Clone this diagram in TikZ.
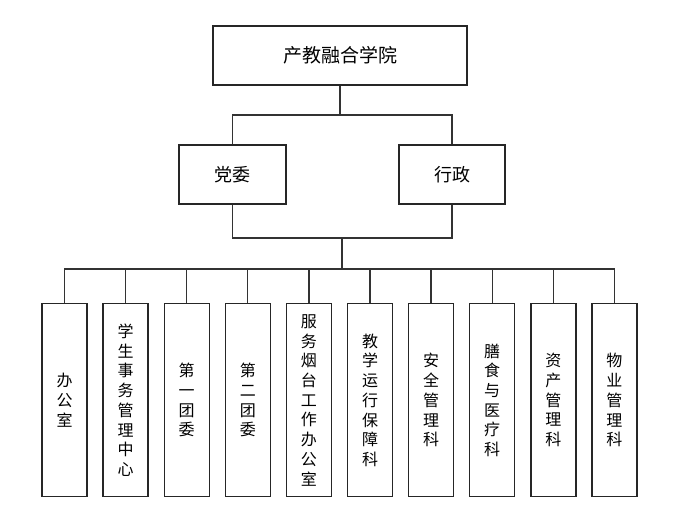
\documentclass[tikz,border=0pt]{standalone}
\usepackage{fontspec}
\setmainfont{Noto Sans CJK SC}
\begin{document}
\begin{tikzpicture}[x=1pt,y=-1pt,
  box/.style={draw=black!85,line width=1.4pt,fill=white,inner sep=0pt},
  vbox/.style={box,minimum width=45pt,minimum height=193pt,align=center,
     font=\fontsize{16}{19.7}\selectfont,anchor=north},
  conn/.style={draw=black!80,line width=1.3pt}]
\useasboundingbox (0,0) rectangle (677,528);
\node[box,minimum width=254pt,minimum height=59pt,font=\fontsize{19}{22}\selectfont] (top) at (340,55.5) {产教融合学院};
\node[box,minimum width=107pt,minimum height=59pt,font=\fontsize{18}{21}\selectfont] (dw) at (232.5,174.5) {党委};
\node[box,minimum width=106pt,minimum height=59pt,font=\fontsize{18}{21}\selectfont] (xz) at (452,174.5) {行政};
\coordinate (bus1) at (340,115);
\coordinate (bus2) at (342,238);
\coordinate (bus3) at (342,269);
\draw[conn] (top.south) -- (bus1);
\draw[conn] (dw.north) |- (bus1) -| (xz.north);
\draw[conn] (dw.south) |- (bus2) -| (xz.south);
\draw[conn] (bus2) -- (bus3);
\foreach \i/\t in {0/{办\\公\\室},
  1/{学\\生\\事\\务\\管\\理\\中\\心},
  2/{第\\一\\团\\委},
  3/{第\\二\\团\\委},
  4/{服\\务\\烟\\台\\工\\作\\办\\公\\室},
  5/{教\\学\\运\\行\\保\\障\\科},
  6/{安\\全\\管\\理\\科},
  7/{膳\\食\\与\\医\\疗\\科},
  8/{资\\产\\管\\理\\科},
  9/{物\\业\\管\\理\\科}}{
  \node[vbox] (b\i) at ({64.5+61.1*\i},303) {\t};
}
\draw[conn] (b0.north) |- (bus3) -| (b9.north);
\foreach \i in {1,...,8}{
  \draw[conn] (b\i.north) -- (b\i.north |- bus3);
}
\end{tikzpicture}
\end{document}
